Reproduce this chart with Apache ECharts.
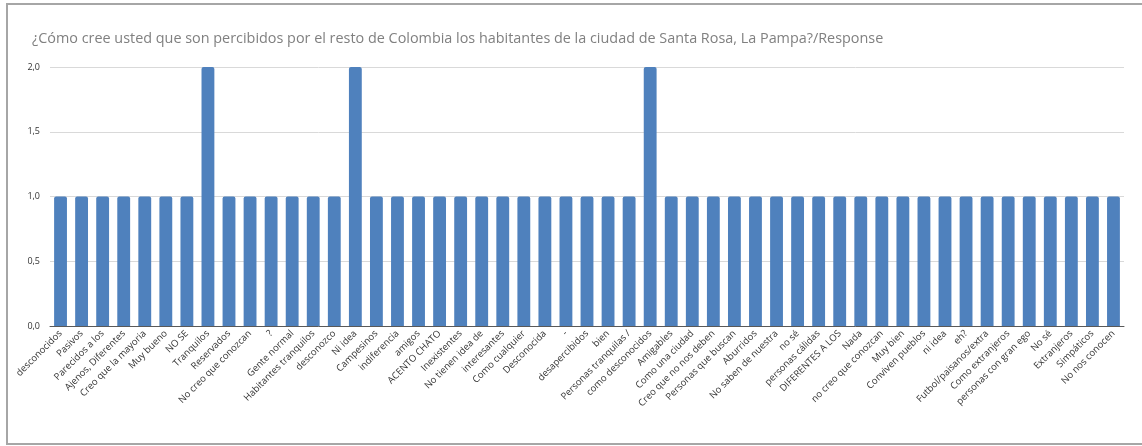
<!DOCTYPE html>
<html><head><meta charset="utf-8">
<script src="https://cdn.jsdelivr.net/npm/echarts@6/dist/echarts.min.js"></script>
<style>
html,body{margin:0;padding:0;background:#fff;overflow:hidden;}
#frame{position:absolute;left:6px;top:3px;width:1200px;height:442px;border:2px solid #a6a6a6;border-right:none;box-sizing:border-box;}
#c{position:absolute;left:0;top:0;width:1142px;height:446px;}
</style></head>
<body>
<div id="frame"></div>
<div id="c"></div>
<script>
const titleText = "¿Cómo cree usted que son percibidos por el resto de Colombia los habitantes de la ciudad de Santa Rosa, La Pampa?/Response";
const categories = ["desconocidos","Pasivos","Parecidos a los","Ajenos, Diferentes","Creo que la mayoria","Muy bueno","NO SE","Tranquilos","Reservados","No creo que conozcan","?","Gente normal","Habitantes tranquilos","desconozco","Ni idea","Campesinos","indiferencia","amigos","ACENTO CHATO","Inexistentes","No tienen idea de","interesantes","Como cualquier","Desconocida","-","desapercibidos","bien","Personas tranquilas /","como desconocidos","Amigables","Como una ciudad","Creo que no nos deben","Personas que buscan","Aburridos","No saben de nuestra","no sé","personas cálidas","DIFERENTES A LOS","Nada","no creo que conozcan","Muy bien","Conviven pueblos","ni idea","eh?","Futbol/paisanos/extra","Como extranjeros","personas con gran ego","No sé","Extranjeros","Simpáticos","No nos conocen"];
const values = [1,1,1,1,1,1,1,2,1,1,1,1,1,1,2,1,1,1,1,1,1,1,1,1,1,1,1,1,2,1,1,1,1,1,1,1,1,1,1,1,1,1,1,1,1,1,1,1,1,1,1];
const yTicks = [0,0.5,1,1.5,2];

const chart = echarts.init(document.getElementById('c'));
chart.setOption({
  animation:false,
  title:{text:titleText,left:27,top:27,textStyle:{fontFamily:'Open Sans',fontWeight:'normal',fontSize:14.4,color:'#808080'}},
  grid:{left:50,right:18,top:67,bottom:120,containLabel:false},
  xAxis:{type:'category',data:categories,
    axisLine:{lineStyle:{color:'#595959',width:1}},
    axisTick:{show:false},
    axisLabel:{rotate:45,interval:0,fontFamily:'Open Sans',fontSize:9.5,color:'#333333',margin:6}},
  yAxis:{type:'value',min:yTicks[0],max:yTicks[yTicks.length-1],interval:0.5,
    axisLine:{show:false},axisTick:{show:false},
    splitLine:{lineStyle:{color:'#d9d9d9'}},
    axisLabel:{fontFamily:'Open Sans',fontSize:9,color:'#333333',margin:10,
      formatter:v=>v.toFixed(1).replace('.',',')}},
  series:[{type:'bar',data:values,barCategoryGap:'39%',
    itemStyle:{color:'#4f81bd',borderRadius:[2,2,0,0]}}]
});
</script>
</body></html>
